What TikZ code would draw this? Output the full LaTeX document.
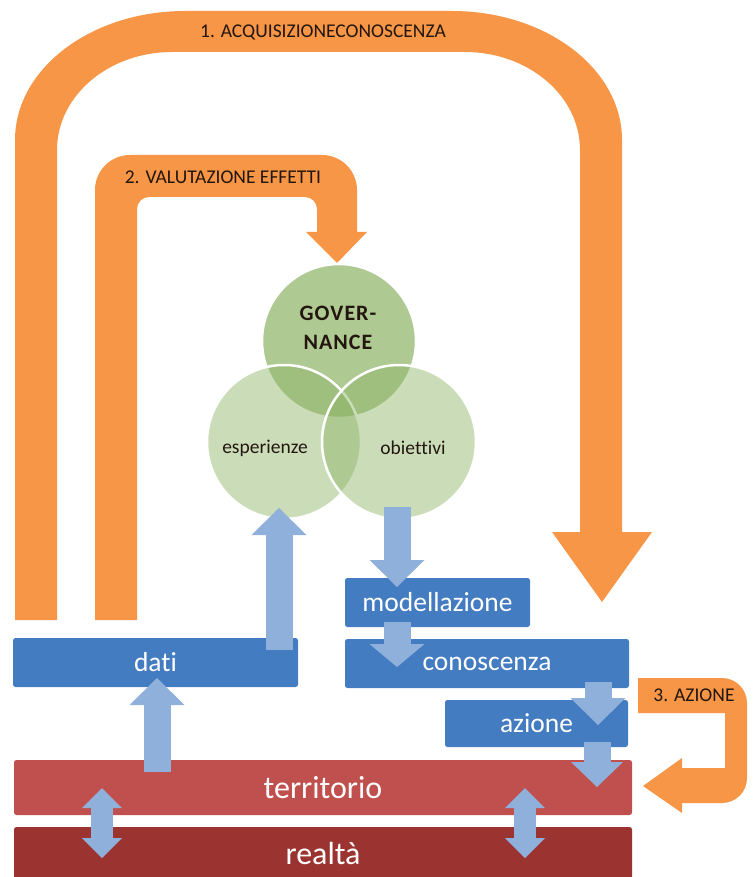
\documentclass[tikz,border=0pt]{standalone}
\usepackage{fontspec}
\setmainfont{Carlito}[Ligatures=NoCommon]
\usetikzlibrary{arrows.meta}
\definecolor{orangeA}{RGB}{247,150,70}
\definecolor{boxblue}{RGB}{68,124,193}
\definecolor{arrblue}{RGB}{144,176,220}
\definecolor{terred}{RGB}{192,80,77}
\definecolor{realred}{RGB}{155,52,49}
\definecolor{venn}{RGB}{140,178,100}
\definecolor{labeltext}{RGB}{35,22,15}
\newcommand{\ks}{\kern1pt}
\begin{document}
\begin{tikzpicture}[x=1pt,y=-1pt,
  orangeshape/.style={fill=orangeA},
  olabel/.style={text=labeltext, font=\fontsize{19.5}{21}\selectfont, inner sep=0pt},
  bluebox/.style={fill=boxblue, rounded corners=2.5pt, text=white, inner sep=0pt,
     font=\fontsize{27.5}{29}\selectfont},
  redbox/.style={rounded corners=2.5pt, text=white, inner sep=0pt,
     font=\fontsize{32}{34}\selectfont},
  venncircle/.style={circle, fill=venn, draw=white, draw opacity=1, line width=2.5pt,
     minimum size=154pt, inner sep=0pt},
  vtext/.style={text=labeltext, font=\fontsize{19.5}{21}\selectfont, inner sep=0pt},
  barrow/.style={draw=arrblue, line width=27pt,
     -{Triangle[width=55pt,length=27pt,line width=0pt]}},
  darrow/.style={draw=arrblue, line width=22pt,
     {Triangle[width=40pt,length=20pt,line width=0pt]}-{Triangle[width=40pt,length=20pt,line width=0pt]}}
]
\useasboundingbox (0,0) rectangle (752,877);

% ---- orange arrow 1: acquisizione conoscenza
\fill[orangeshape] (15,620) -- (15,140)
  arc[start angle=180, end angle=270, x radius=170, y radius=129]
  -- (452,11)
  arc[start angle=270, end angle=360, x radius=170, y radius=129]
  -- (622,532) -- (652,532) -- (602,602) -- (552,532) -- (580,532) -- (580,150)
  arc[start angle=360, end angle=270, x radius=115, y radius=98]
  -- (172,52)
  arc[start angle=270, end angle=180, x radius=115, y radius=98]
  -- (57,620) -- cycle;
\node[olabel] (l1) at (323,32) {1. ACQUISIZIONECONOSCENZA};

% ---- orange arrow 2: valutazione effetti
\fill[orangeshape] (95,620) -- (95,190)
  arc[start angle=180, end angle=270, radius=35]
  -- (322,155)
  arc[start angle=270, end angle=360, radius=35]
  -- (357,232) -- (367,232) -- (337,263) -- (306,232) -- (317,232) -- (317,209)
  arc[start angle=360, end angle=270, radius=12]
  -- (149,197)
  arc[start angle=270, end angle=180, radius=12]
  -- (137,620) -- cycle;
\node[olabel] (l2) at (223,177) {2. VALUTAZIONE EFFETTI};

% ---- orange arrow 3: azione
\fill[orangeshape] (638,678) -- (722,678)
  arc[start angle=270, end angle=360, radius=25]
  -- (747,778)
  arc[start angle=0, end angle=90, radius=25]
  -- (682,803) -- (682,813) -- (643,786) -- (682,758) -- (682,768)
  -- (725,768) -- (725,713) -- (638,713) -- cycle;
\node[olabel] (l3) at (694,695) {3. AZIONE};

% ---- Venn circles
\node[venncircle, fill opacity=0.7] (gov) at (339,341) {};
\node[venncircle, fill opacity=0.45] (esp) at (284,442) {};
\node[venncircle, fill opacity=0.45] (obi) at (399,442) {};
\node[text=labeltext, font=\bfseries\fontsize{22}{29}\selectfont, align=center, inner sep=0pt] (govt) at (338,328) {G\ks O\ks V\ks E\ks R\ks -\\N\ks A\ks N\ks C\ks E};
\node[vtext] (espt) at (265,448) {esperienze};
\node[vtext] (obit) at (413,448) {obiettivi};

% ---- boxes
\node[bluebox, minimum width=285pt, minimum height=49pt] (dati) at (155.5,662.5) {dati};
\node[bluebox, minimum width=185pt, minimum height=49pt] (mod) at (437.5,602.5) {modellazione};
\node[bluebox, minimum width=284pt, minimum height=49pt] (con) at (487,663.5) {conoscenza};
\node[bluebox, minimum width=183pt, minimum height=47pt] (azi) at (536.5,723.5) {azione};
\node[redbox, fill=terred, minimum width=618pt, minimum height=55pt] (ter) at (323,787.5) {territorio};
\node[redbox, fill=realred, minimum width=618pt, minimum height=52pt] (rea) at (323,853) {realt\`a};

% ---- light blue block arrows
\coordinate (a1s) at (279,650); \coordinate (a1e) at (279,508);
\coordinate (a2s) at (157,772); \coordinate (a2e) at (157,678);
\coordinate (a3s) at (397,507); \coordinate (a3e) at (397,587);
\coordinate (a4s) at (397,622); \coordinate (a4e) at (397,667);
\coordinate (a5s) at (598,682); \coordinate (a5e) at (598,725);
\coordinate (a6s) at (597,742); \coordinate (a6e) at (597,787);
\coordinate (d1s) at (102,788); \coordinate (d1e) at (102,858);
\coordinate (d2s) at (525,788); \coordinate (d2e) at (525,858);
\draw[barrow] (a1s) -- (a1e);
\draw[barrow] (a2s) -- (a2e);
\draw[barrow] (a3s) -- (a3e);
\draw[barrow, -{Triangle[width=55pt,length=23pt,line width=0pt]}] (a4s) -- (a4e);
\draw[barrow] (a5s) -- (a5e);
\draw[barrow, -{Triangle[width=52pt,length=25pt,line width=0pt]}] (a6s) -- (a6e);
\draw[darrow] (d1s) -- (d1e);
\draw[darrow] (d2s) -- (d2e);
\end{tikzpicture}
\end{document}
